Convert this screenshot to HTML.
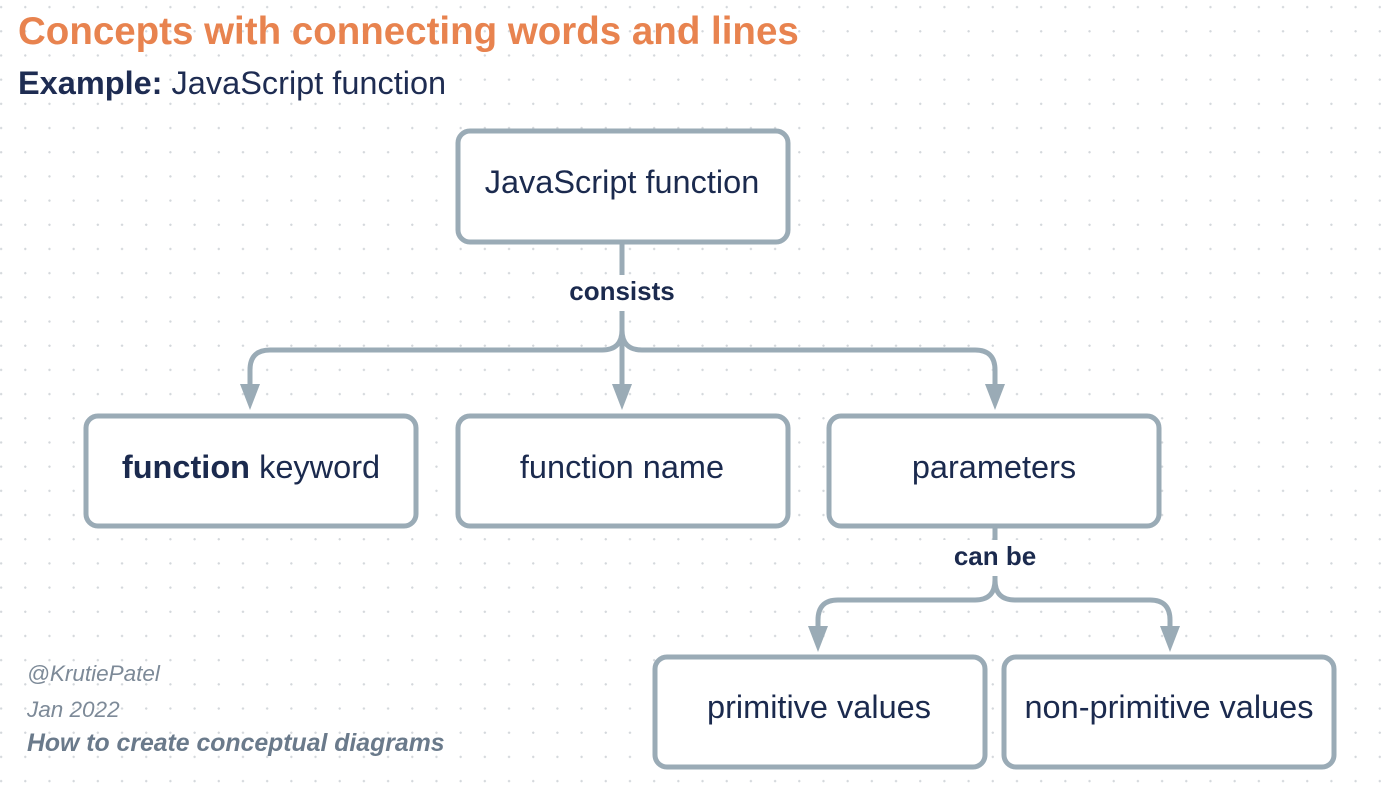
<!DOCTYPE html>
<html><head><meta charset="utf-8"><style>
html,body{margin:0;padding:0}
body{width:1400px;height:787px;overflow:hidden;background:#fff;position:relative;
background-image:radial-gradient(circle,#d3d7db 1px,transparent 1.3px);background-size:24.2px 24.2px;background-position:-11px -5px;font-family:"Liberation Sans",sans-serif}
.t{position:absolute;white-space:nowrap}
</style></head><body>
<div class="t" style="left:18px;top:10px;font-size:38.5px;font-weight:bold;color:#e8834f;">Concepts with connecting words and lines</div>
<div class="t" style="left:18px;top:65px;font-size:32.5px;color:#1e2c52;"><b>Example:</b> JavaScript function</div>
<div class="t" style="left:27px;top:661px;font-size:22.5px;font-style:italic;color:#7d8a98;">@KrutiePatel</div>
<div class="t" style="left:27px;top:697px;font-size:22.5px;font-style:italic;color:#7d8a98;">Jan 2022</div>
<div class="t" style="left:27px;top:730px;font-size:24.8px;font-style:italic;font-weight:bold;color:#6a7a8b;">How to create conceptual diagrams</div>
<svg width="1400" height="787" style="position:absolute;left:0;top:0" font-family="Liberation Sans, sans-serif">
<g fill="#fff" stroke="#9aabb6" stroke-width="5">
<rect x="458" y="131" width="330" height="111" rx="12"/>
<rect x="86" y="416" width="330" height="110" rx="12"/>
<rect x="458" y="416" width="330" height="110" rx="12"/>
<rect x="829" y="416" width="330" height="110" rx="12"/>
<rect x="655" y="657" width="330" height="110" rx="12"/>
<rect x="1004" y="657" width="330" height="110" rx="12"/>
</g>
<g fill="none" stroke="#9aabb6" stroke-width="5">
<path d="M622 242 V390"/>
<path d="M622 315 V330 Q622 350 602 350 H270 Q250 350 250 370 V390"/>
<path d="M622 315 V330 Q622 350 642 350 H975 Q995 350 995 370 V390"/>
<path d="M995 526 V580 Q995 600 975 600 H838 Q818 600 818 620 V632"/>
<path d="M995 580 Q995 600 1015 600 H1150 Q1170 600 1170 620 V632"/>
</g>
<g fill="#9aabb6">
<polygon points="240,384 260,384 250,410"/>
<polygon points="612,384 632,384 622,410"/>
<polygon points="985,384 1005,384 995,410"/>
<polygon points="808,626 828,626 818,652"/>
<polygon points="1160,626 1180,626 1170,652"/>
</g>
<rect x="555" y="275" width="134" height="36" fill="#fff"/>
<rect x="936" y="540" width="118" height="36" fill="#fff"/>
<g fill="#1b2a4e" text-anchor="middle" font-size="32.5">
<text x="622" y="293" font-size="26" font-weight="bold" dominant-baseline="middle">consists</text>
<text x="995" y="558" font-size="26" font-weight="bold" dominant-baseline="middle">can be</text>
<text x="622" y="193">JavaScript function</text>
<text x="251" y="478"><tspan font-weight="bold">function</tspan> keyword</text>
<text x="622" y="478">function name</text>
<text x="994" y="478">parameters</text>
<text x="819" y="718">primitive values</text>
<text x="1169" y="718">non-primitive values</text>
</g>
</svg>
</body></html>
